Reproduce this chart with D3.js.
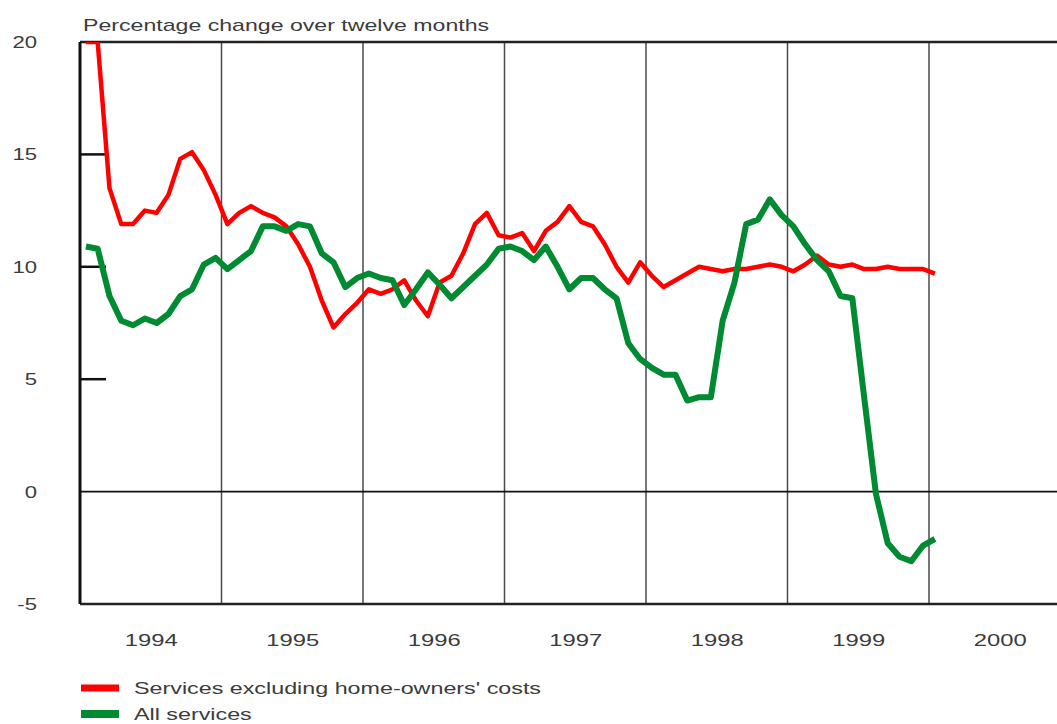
<!DOCTYPE html>
<html>
<head>
<meta charset="utf-8">
<script src="https://cdn.jsdelivr.net/npm/d3@7"></script>
<style>
  body { margin: 0; background: #fff; }
  text { font-family: "Liberation Sans", Arial, sans-serif; fill: #3c3c3c; }
</style>
</head>
<body>
<svg id="chart" width="1057" height="724"></svg>
<script>
// monthly values, Jan 1994 to Jan 2000
let startYear = 1994;
let servicesExHousing = [
  20, 20, 13.5, 11.9, 11.9, 12.5, 12.4, 13.2, 14.8, 15.1, 14.3, 13.2,
  11.9, 12.4, 12.7, 12.4, 12.2, 11.8, 11.0, 10.0, 8.5, 7.3, 7.9, 8.4,
  9.0, 8.8, 9.0, 9.4, 8.5, 7.8, 9.3, 9.6, 10.6, 11.9, 12.4, 11.4,
  11.3, 11.5, 10.7, 11.6, 12.0, 12.7, 12.0, 11.8, 11.0, 10.0, 9.3, 10.2,
  9.6, 9.1, 9.4, 9.7, 10.0, 9.9, 9.8, 9.9, 9.9, 10.0, 10.1, 10.0,
  9.8, 10.1, 10.5, 10.1, 10.0, 10.1, 9.9, 9.9, 10.0, 9.9, 9.9, 9.9,
  9.7
];
let allServices = [
  10.9, 10.8, 8.7, 7.6, 7.4, 7.7, 7.5, 7.9, 8.7, 9.0, 10.1, 10.4,
  9.9, 10.3, 10.7, 11.8, 11.8, 11.6, 11.9, 11.8, 10.6, 10.2, 9.1, 9.5,
  9.7, 9.5, 9.4, 8.3, 9.0, 9.75, 9.2, 8.6, 9.1, 9.6, 10.1, 10.8,
  10.9, 10.7, 10.3, 10.9, 10.0, 9.0, 9.5, 9.5, 9.0, 8.6, 6.6, 5.9,
  5.5, 5.2, 5.2, 4.05, 4.2, 4.2, 7.6, 9.3, 11.9, 12.1, 13.0, 12.3,
  11.8, 11.0, 10.3, 9.8, 8.7, 8.6, 4.2, -0.1, -2.3, -2.9, -3.1, -2.4,
  -2.1
];
let yearLabels = ['1994', '1995', '1996', '1997', '1998', '1999', '2000'];
let gridYears = [1995, 1996, 1997, 1998, 1999, 2000];
let yTicks = [-5, 0, 5, 10, 15, 20];
let innerTicks = [5, 10, 15];
let seriesNames = ["Services excluding home-owners' costs", 'All services'];
let seriesColours = ['#ff0000', '#008a32'];
let seriesWidths = [4.5, 6];

let svg = d3.select('#chart');
let plotLeft = 80, plotTop = 42, plotBottom = 604;

let xScale = d3.scaleLinear()
    .domain([1994, 2001])
    .range([plotLeft, plotLeft + 7 * 141.5]);
let yScale = d3.scaleLinear()
    .domain([-5, 20])
    .range([plotBottom, plotTop]);

// stretch text wider, the source lettering is broad
function stretch(sel, k) {
    sel.each(function() {
        let w = this.getComputedTextLength();
        d3.select(this).attr('textLength', w * k).attr('lengthAdjust', 'spacingAndGlyphs');
    });
}

//title
svg.append('text')
    .attr('x', 83)
    .attr('y', 31)
    .attr('font-size', 17)
    .text('Percentage change over twelve months')
    .call(stretch, 1.36);

//vertical year lines
svg.append('g').selectAll('line')
    .data(gridYears)
    .enter()
    .append('line')
    .attr('x1', d => xScale(d))
    .attr('x2', d => xScale(d))
    .attr('y1', plotTop)
    .attr('y2', plotBottom)
    .attr('stroke', '#4a4a4a')
    .attr('stroke-width', 1.5);

//frame lines
svg.append('line')
    .attr('x1', plotLeft).attr('x2', 1057)
    .attr('y1', yScale(20)).attr('y2', yScale(20))
    .attr('stroke', '#222').attr('stroke-width', 2.5);
svg.append('line')
    .attr('x1', plotLeft).attr('x2', 1057)
    .attr('y1', yScale(-5)).attr('y2', yScale(-5))
    .attr('stroke', '#222').attr('stroke-width', 2.5);
svg.append('line')
    .attr('x1', plotLeft).attr('x2', 1057)
    .attr('y1', yScale(0)).attr('y2', yScale(0))
    .attr('stroke', '#111').attr('stroke-width', 1.8);
svg.append('line')
    .attr('x1', plotLeft).attr('x2', plotLeft)
    .attr('y1', plotTop).attr('y2', plotBottom)
    .attr('stroke', '#111').attr('stroke-width', 3);

//short ticks inside the left axis
svg.append('g').selectAll('line')
    .data(innerTicks)
    .enter()
    .append('line')
    .attr('x1', plotLeft)
    .attr('x2', plotLeft + 26)
    .attr('y1', d => yScale(d))
    .attr('y2', d => yScale(d))
    .attr('stroke', '#111')
    .attr('stroke-width', 2.5);

//y labels
let yAxis = svg.append('g')
    .attr('transform', 'translate(37, 0)')
    .call(d3.axisLeft(yScale)
        .tickValues(yTicks)
        .tickFormat(d => String(d))
        .tickSize(0).tickPadding(0));
yAxis.select('.domain').remove();
yAxis.selectAll('text')
    .attr('font-size', 17)
    .attr('font-family', '"Liberation Sans", Arial, sans-serif')
    .attr('fill', '#3c3c3c')
    .call(stretch, 1.3);

//x labels at mid-year
let xAxis = svg.append('g')
    .attr('transform', 'translate(0, 634)')
    .call(d3.axisBottom(xScale)
        .tickValues(yearLabels.map(y => +y + 0.5))
        .tickFormat((d, i) => yearLabels[i])
        .tickSize(0).tickPadding(0));
xAxis.select('.domain').remove();
xAxis.selectAll('text')
    .attr('font-size', 17)
    .attr('font-family', '"Liberation Sans", Arial, sans-serif')
    .attr('fill', '#3c3c3c')
    .call(stretch, 1.4);

//lines
svg.append('clipPath').attr('id', 'plotClip')
    .append('rect')
    .attr('x', plotLeft).attr('y', plotTop)
    .attr('width', 1057 - plotLeft).attr('height', plotBottom - plotTop);

let line = d3.line()
    .x((d, i) => xScale(startYear + (i + 0.5) / 12))
    .y(d => yScale(d));

let plot = svg.append('g').attr('clip-path', 'url(#plotClip)');
[servicesExHousing, allServices].forEach((vals, k) => {
    plot.append('path')
        .datum(vals)
        .attr('d', line)
        .attr('fill', 'none')
        .attr('stroke', seriesColours[k])
        .attr('stroke-width', seriesWidths[k])
        .attr('stroke-linejoin', 'round');
});

//legend
let legendY = [688, 714];
seriesNames.forEach((name, k) => {
    svg.append('rect')
        .attr('x', 81)
        .attr('y', legendY[k] - (k == 0 ? 3.5 : 4))
        .attr('width', 38)
        .attr('height', k == 0 ? 7 : 8)
        .attr('fill', seriesColours[k]);
    svg.append('text')
        .attr('x', 134)
        .attr('y', legendY[k] + 6)
        .attr('font-size', 17)
        .text(name)
        .call(stretch, 1.37);
});
</script>
</body>
</html>
